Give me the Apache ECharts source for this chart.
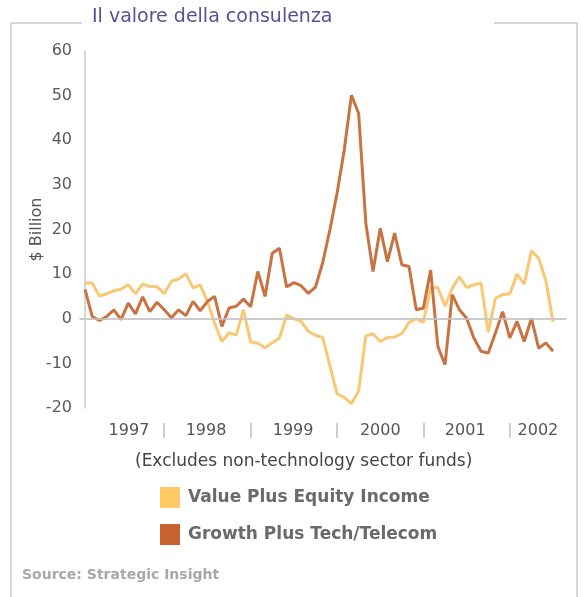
<!DOCTYPE html>
<html>
<head>
<meta charset="utf-8">
<script src="https://cdn.jsdelivr.net/npm/echarts@6/dist/echarts.min.js"></script>
<style>
html,body{margin:0;padding:0;background:#fff;}
#chart{width:584px;height:597px;}
</style>
</head>
<body>
<div id="chart"></div>
<script>
// Monthly flows ($ Billion), one point per month, Feb 1997 .. Jul 2002
const valueEquityIncome = [
  8.0, 8.0, 5.1, 5.6, 6.3, 6.6, 7.6, 5.6, 7.8, 7.2, 7.2, 5.6,
  8.4, 8.9, 10.1, 6.9, 7.6, 3.9, -1.0, -5.1, -3.2, -3.6, 2.0, -5.2,
  -5.5, -6.5, -5.4, -4.3, 0.8, 0.0, -0.6, -2.8, -3.7, -4.2, -10.5, -16.8,
  -17.6, -19.0, -16.2, -3.8, -3.4, -5.1, -4.2, -4.1, -3.3, -0.8, 0.0, -0.8,
  7.0, 7.0, 2.8, 6.8, 9.4, 7.0, 7.6, 8.0, -3.0, 4.6, 5.4, 5.6,
  10.0, 7.8, 15.2, 13.6, 8.5, -0.7
];
const growthTechTelecom = [
  6.6, 0.5, -0.4, 0.5, 2.0, -0.2, 3.5, 1.1, 4.9, 1.6, 3.7, 2.0,
  0.2, 2.0, 0.7, 3.9, 1.8, 3.9, 5.0, -1.7, 2.4, 2.8, 4.4, 2.7,
  10.6, 5.0, 14.7, 15.8, 7.1, 8.1, 7.4, 5.7, 7.1, 12.5, 19.9, 28.1,
  37.8, 50.1, 46.0, 21.4, 10.6, 20.3, 12.8, 19.2, 12.1, 11.7, 2.0, 2.4,
  10.9, -6.2, -10.3, 5.4, 2.0, 0.1, -4.3, -7.3, -7.7, -3.2, 1.6, -4.3,
  -0.6, -5.1, 0.1, -6.6, -5.4, -7.3
];
const seriesNames = ['Value Plus Equity Income', 'Growth Plus Tech/Telecom'];
const yearLabels = ['1997', '1998', '1999', '2000', '2001', '2002'];
const yearLabelPos = [6.1, 16.8, 28.9, 41.0, 52.8, 62.9];   // month index where each year label sits
const yearBreaks = [11, 23, 35, 47, 59];                   // month index of each year separator

const chart = echarts.init(document.getElementById('chart'));
const font = 'DejaVu Sans';
const toPairs = arr => arr.map((v, i) => [i, v]);

chart.setOption({
  animation: false,
  backgroundColor: '#fff',
  grid: { left: 80, right: 18, top: 51, bottom: 189 },
  xAxis: [{
    type: 'value', min: -0.7, max: 66.8,
    axisLine: { show: true, lineStyle: { color: '#c8c8c8', width: 1.5 } },
    axisTick: { show: false },
    splitLine: { show: false },
    axisLabel: {
      customValues: yearLabelPos,
      formatter: v => yearLabels[yearLabelPos.indexOf(v)],
      margin: 15, fontSize: 16, color: '#555', fontFamily: font
    }
  }, {
    type: 'value', min: -0.7, max: 66.8, position: 'bottom', offset: 15,
    axisLine: { show: false },
    axisTick: { show: true, customValues: yearBreaks, length: 15, lineStyle: { color: '#bdbdbd', width: 1.5 } },
    axisLabel: { show: false },
    splitLine: { show: false }
  }],
  yAxis: {
    type: 'value', min: -20, max: 60, interval: 10,
    axisLine: { show: true, lineStyle: { color: '#c8c8c8', width: 1.5 } },
    axisTick: { show: false },
    splitLine: { show: false },
    axisLabel: { margin: 8, fontSize: 16, color: '#5a5a5a', fontFamily: font },
    name: '$ Billion', nameLocation: 'middle', nameGap: 35, nameMoveOverlap: false,
    nameTextStyle: { fontSize: 16, color: '#555', fontFamily: font }
  },
  legend: {
    orient: 'vertical', left: 155, top: 482,
    itemWidth: 20, itemHeight: 21, itemGap: 16, icon: 'rect',
    textStyle: { fontSize: 17, fontWeight: 'bold', color: '#6a6a6a', fontFamily: font, padding: [0, 0, 0, 3] },
    data: [
      { name: seriesNames[0], itemStyle: { color: '#FFC964' } },
      { name: seriesNames[1], itemStyle: { color: '#C8622F' } }
    ]
  },
  series: [{
    name: seriesNames[0], type: 'line', symbol: 'none',
    itemStyle: { color: '#FFC964' },
    lineStyle: { color: '#F8C874', width: 3 },
    data: toPairs(valueEquityIncome),
    markLine: {
      silent: true, symbol: 'none', label: { show: false },
      lineStyle: { color: '#c8c8c8', width: 1.5, type: 'solid' },
      data: [{ yAxis: 0 }]
    },
    z: 2
  }, {
    name: seriesNames[1], type: 'line', symbol: 'none',
    itemStyle: { color: '#C8622F' },
    lineStyle: { color: '#C87341', width: 3 },
    data: toPairs(growthTechTelecom),
    z: 3
  }],
  graphic: [
    { type: 'line', shape: { x1: 11, y1: 23, x2: 82, y2: 23 }, style: { stroke: '#c8c8c8', lineWidth: 1.5 } },
    { type: 'line', shape: { x1: 494, y1: 23, x2: 577, y2: 23 }, style: { stroke: '#c8c8c8', lineWidth: 1.5 } },
    { type: 'line', shape: { x1: 11, y1: 23, x2: 11, y2: 597 }, style: { stroke: '#c8c8c8', lineWidth: 1.5 } },
    { type: 'line', shape: { x1: 577, y1: 23, x2: 577, y2: 597 }, style: { stroke: '#c8c8c8', lineWidth: 1.5 } },
    { type: 'text', left: 92, top: 8, style: { text: 'Il valore della consulenza', fill: '#52529a', font: '19px "DejaVu Sans"' } },
    { type: 'text', left: 135, top: 453, style: { text: '(Excludes non-technology sector funds)', fill: '#444', font: '17px "DejaVu Sans"' } },
    { type: 'text', left: 22, top: 568, style: { text: 'Source: Strategic Insight', fill: '#a8a8a8', font: 'bold 14px "DejaVu Sans"' } }
  ]
});
</script>
</body>
</html>
